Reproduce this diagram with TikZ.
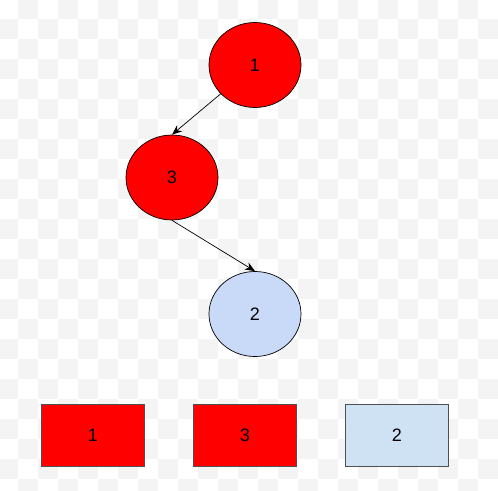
\documentclass[tikz,border=0pt]{standalone}
\usepackage{fontspec}
\setmainfont{Liberation Sans}
\usetikzlibrary{shapes.geometric,arrows.meta}
\definecolor{nodeblue}{HTML}{C9DAF8}
\definecolor{boxblue}{HTML}{CFE2F3}
\definecolor{checker}{HTML}{F4F4F4}
\definecolor{boxedge}{HTML}{505050}
\tikzset{
  treenode/.style={ellipse, draw=black, line width=0.7pt, minimum width=92pt, minimum height=85pt, inner sep=0pt, font=\fontsize{18}{21}\selectfont},
  redfill/.style={fill=red},
  bluefill/.style={fill=nodeblue},
  arraybox/.style={rectangle, draw=boxedge, line width=1.2pt, minimum width=103pt, minimum height=62pt, inner sep=0pt, font=\fontsize{18}{21}\selectfont},
  link/.style={draw=black, line width=0.7pt, -{Stealth[length=10pt,width=8pt]}}
}
\begin{document}
\begin{tikzpicture}[x=1pt,y=-1pt]
\useasboundingbox (0,0) rectangle (498,490);
\begin{scope}
\clip (0,0) rectangle (498,490);
\fill[white] (0,0) rectangle (498,490);
\foreach \i in {0,...,25}{
  \foreach \j in {0,...,24}{
    \pgfmathtruncatemacro\cellpar{mod(\i+\j,2)}
    \ifnum\cellpar=1
      \fill[checker] (-1.7+20*\i,-0.7+20*\j) rectangle ++(20,20);
    \fi
  }
}
\end{scope}
\node[treenode,redfill] (n1) at (255,65) {1};
\node[treenode,redfill] (n3) at (172,177.5) {3};
\node[treenode,bluefill] (n2) at (255,314) {2};
\draw[link] (n1) -- (n3.north);
\draw[link] (n3.south) -- (n2.north);
\node[arraybox,fill=red] (a1) at (93,435.5) {1};
\node[arraybox,fill=red] (a2) at (245,435.5) {3};
\node[arraybox,fill=boxblue] (a3) at (397,435.5) {2};
\end{tikzpicture}
\end{document}
